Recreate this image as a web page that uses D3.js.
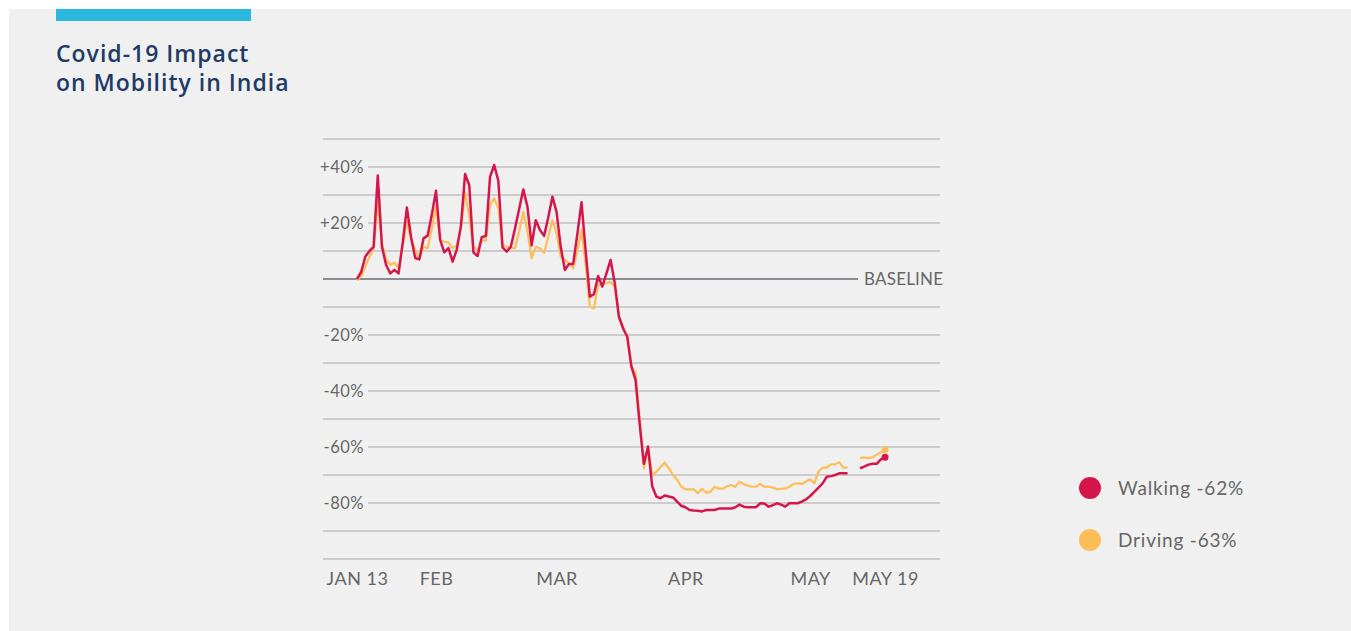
<!DOCTYPE html>
<html>
<head>
<meta charset="utf-8">
<script src="https://cdn.jsdelivr.net/npm/d3@7"></script>
<style>
  html, body { margin: 0; padding: 0; background: #ffffff; }
  svg { display: block; }
  text { font-family: Lato, "Open Sans", sans-serif; }
</style>
</head>
<body>
<svg id="chart" width="1351" height="631"></svg>
<script>
// ---- Data ----
const startDate = "2020-01-13";
const walking = [
  0, 2.5, 8, 10, 11.5, 37, 11.5, 5, 2, 3.2,
  2, 13, 25.5, 15, 7.5, 7, 14.5, 15.5, 23, 31.5,
  14, 9.5, 11, 6.2, 10.5, 19, 37.5, 33.5, 9.5, 8.2,
  14.9, 15.4, 36.5, 40.7, 35, 11.3, 9.8, 11.5, 18, 25,
  32, 25.8, 12, 21, 17.5, 15.4, 22, 29.4, 24, 11.5,
  3.2, 5.4, 5.4, 16, 27.4, 10, -6.3, -5.4, 1.1, -2.7,
  2, 6.8, -1.5, -13.5, -17.6, -20.6, -31.3, -36, -52, -66,
  -59.8, -74, -77.7, -78.3, -77.3, -77.7, -78, -79.5, -81, -81.5,
  -82.5, -82.7, -82.8, -83, -82.5, -82.5, -82.5, -82, -82, -82,
  -82, -81.5, -80.6, -81.3, -81.5, -81.5, -81.5, -80.1, -80.2, -81.3,
  -80.8, -80.1, -80.6, -81.3, -80.1, -80.1, -80.1, -79.5, -78.7, -77.5,
  -76, -74.5, -73, -70.6, -70.4, -70, -69.4, -69.4, -69.4, null,
  null, -67.6, -67, -66.3, -66, -66, -64.4, -63.7
];
const driving = [
  -0.5, 1, 4.4, 8, 10.5, 27.6, 12.7, 7, 5, 5.8,
  3.8, 12, 20.5, 14, 10.4, 7.4, 11.5, 11, 18, 25.8,
  14, 13.3, 13, 11, 12, 18, 31.2, 22.3, 11.5, 10.4,
  13.7, 13.7, 26.4, 28.8, 25.2, 12.1, 11.5, 11, 11, 17,
  24, 16.9, 7.4, 11.5, 11, 9.4, 15, 21, 16.3, 8,
  6.8, 5.6, 3.8, 10, 17.5, 5, -9.9, -10.5, -2, -2,
  -1.5, -1, -3, -13.5, -17.6, -20.6, -31, -33.6, -50, -67.6,
  -60.5, -70, -68.8, -67.2, -65.5, -67.6, -70, -71.8, -74.2, -75.1,
  -75.1, -75.1, -76.5, -74.9, -76.3, -76, -74.2, -74.9, -74.9, -74,
  -73.6, -74.2, -72.4, -73.2, -73.8, -74.2, -74.2, -73.2, -74.2, -74.2,
  -74.5, -75.1, -74.9, -74.9, -74.2, -73.2, -73, -73.2, -72.4, -71.5,
  -73, -68.8, -67.4, -67.4, -66.2, -66.2, -65.4, -67.4, -67.4, null,
  null, -64, -63.7, -64, -63.7, -62.7, -62, -61
];
const xTickDates = ["2020-01-13", "2020-02-01", "2020-03-01", "2020-04-01", "2020-05-01", "2020-05-19"];
const xTickLabels = ["JAN 13", "FEB", "MAR", "APR", "MAY", "MAY 19"];
const yGridValues = [50, 40, 30, 20, 10, 0, -10, -20, -30, -40, -50, -60, -70, -80, -90, -100];
const yLabelValues = [40, 20, -20, -40, -60, -80];
const yLabelTexts = ["+40%", "+20%", "-20%", "-40%", "-60%", "-80%"];
const seriesNames = ["Walking -62%", "Driving -63%"];
const seriesColors = ["#d5164b", "#fdbd57"];
const titleLines = ["Covid-19 Impact", "on Mobility in India"];

// ---- Setup ----
const svg = d3.select("#chart");
const parse = d3.utcParse("%Y-%m-%d");
const t0 = parse(startDate);
const dates = walking.map((_, i) => d3.utcDay.offset(t0, i));

svg.append("rect").attr("x", 9).attr("y", 9).attr("width", 1342).attr("height", 622).attr("fill", "#f0f0f0");
svg.append("rect").attr("x", 56).attr("y", 9).attr("width", 195).attr("height", 12).attr("fill", "#2bb8de");

svg.append("g").selectAll("text").data(titleLines).join("text")
  .attr("x", 56).attr("y", (d, i) => 62 + i * 29)
  .style("font-family", "'Open Sans', sans-serif")
  .style("font-size", "23px").style("font-weight", 600).attr("fill", "#1d3b66")
  .style("letter-spacing", "1px")
  .text(d => d);

const x = d3.scaleUtc().domain([dates[0], dates[dates.length - 1]]).range([357, 885]);
const y = d3.scaleLinear().domain([-100, 50]).range([559, 139]);

// grid
const grid = svg.append("g");
grid.selectAll("line").data(yGridValues).join("line")
  .attr("x1", d => d === 0 ? 323 : (yLabelValues.includes(d) ? 368 : 323))
  .attr("x2", d => d === 0 ? 858 : 940)
  .attr("y1", d => y(d)).attr("y2", d => y(d))
  .attr("stroke", d => d === 0 ? "#8b8b93" : "#c0c0c5")
  .attr("stroke-width", d => d === 0 ? 2 : 1.3);

svg.append("g").selectAll("text").data(yLabelValues).join("text")
  .attr("x", 364).attr("y", d => y(d) + 6)
  .attr("text-anchor", "end").attr("font-size", 16.5).attr("fill", "#666")
  .attr("letter-spacing", 0.5)
  .text((d, i) => yLabelTexts[i]);

svg.append("text").attr("x", 864).attr("y", y(0) + 6)
  .attr("font-size", 17).attr("fill", "#666").attr("letter-spacing", 0.2).text("BASELINE");

// x axis labels
const xAxis = d3.axisBottom(x)
  .tickValues(xTickDates.map(parse))
  .tickFormat((d, i) => xTickLabels[i])
  .tickSize(0).tickPadding(0);
const gx = svg.append("g").attr("transform", "translate(0,572)").call(xAxis);
gx.select(".domain").remove();
gx.selectAll("text").attr("font-size", 18).attr("fill", "#666")
  .attr("letter-spacing", 0.5).attr("dy", "0.71em");

// lines
const line = d3.line()
  .defined(d => d.v !== null)
  .x(d => x(d.date)).y(d => y(d.v))
  .curve(d3.curveLinear);

const series = [walking, driving];
[1, 0].forEach(si => {
  const pts = series[si].map((v, i) => ({ date: dates[i], v }));
  svg.append("path").datum(pts)
    .attr("d", line)
    .attr("fill", "none")
    .attr("stroke", seriesColors[si])
    .attr("stroke-width", si === 0 ? 2.5 : 2.2)
    .attr("stroke-linejoin", "round");
  const last = pts[pts.length - 1];
  svg.append("circle").attr("cx", x(last.date)).attr("cy", y(last.v))
    .attr("r", 3.5).attr("fill", seriesColors[si]);
});

// legend
const lg = svg.append("g").selectAll("g").data(seriesNames).join("g")
  .attr("transform", (d, i) => `translate(1090,${488 + i * 52})`);
lg.append("circle").attr("r", 11).attr("fill", (d, i) => seriesColors[i]);
lg.append("text").attr("x", 28).attr("y", 7).attr("font-size", 19).attr("fill", "#666")
  .attr("letter-spacing", 0.8).text(d => d);
</script>
</body>
</html>
